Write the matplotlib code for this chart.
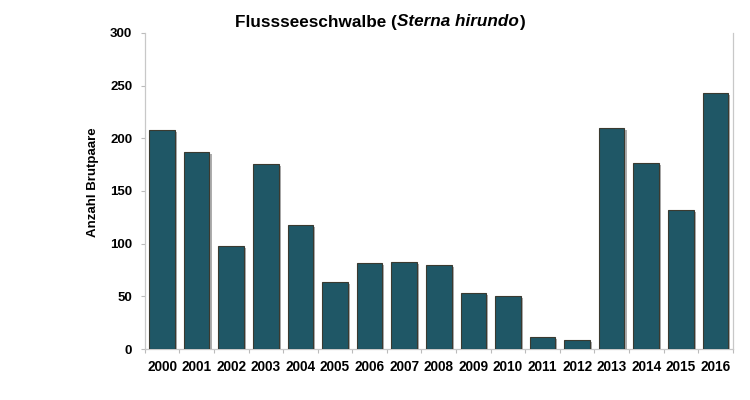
import matplotlib
matplotlib.use("Agg")
import matplotlib.pyplot as plt
import matplotlib.patheffects as pe
import numpy as np

years = ["2000", "2001", "2002", "2003", "2004", "2005", "2006", "2007", "2008",
         "2009", "2010", "2011", "2012", "2013", "2014", "2015", "2016"]
pairs = [208, 187, 98, 176, 118, 64, 82, 83, 80, 53, 50, 11, 9, 210, 177, 132, 243]
yticks = [0, 50, 100, 150, 200, 250, 300]

plt.rcParams['font.family'] = ['Liberation Sans', 'DejaVu Sans']

fig = plt.figure(figsize=(7.5, 4), dpi=100)
ax = fig.add_axes([0.193, 0.1275, 0.784, 0.79])

x = np.arange(len(years))
bars = ax.bar(x, pairs, width=0.74, color="#1F5766", edgecolor="#3a3a30", linewidth=0.8,
              zorder=3)
for b in bars:
    b.set_path_effects([pe.SimplePatchShadow(offset=(1.5, -1.5), shadow_rgbFace="#777777", alpha=0.6),
                        pe.Normal()])

ax.set_xlim(-0.5, len(years) - 0.5)
ax.set_ylim(0, 300)
ax.set_yticks(yticks)
ax.set_yticklabels([str(v) for v in yticks], fontsize=9.5, fontweight="bold")
ax.set_xticks(np.arange(-0.5, len(years), 1.0))
ax.set_xticklabels([])
ax.set_xticks(x, minor=True)
ax.set_xticklabels(years, minor=True, fontsize=9.8, fontweight="bold")
ax.tick_params(axis="x", which="minor", length=0, pad=8)
ax.tick_params(axis="x", which="major", length=3, color="#bbbbbb", direction="out")
ax.tick_params(axis="y", length=3, color="#bbbbbb", direction="out", pad=6)

for s in ["left", "right", "bottom"]:
    ax.spines[s].set_color("#c8c8c8")
    ax.spines[s].set_linewidth(0.9)
ax.spines["top"].set_visible(False)

ax.set_ylabel("Anzahl Brutpaare", fontsize=9.5, fontweight="bold")
ax.yaxis.set_label_coords(-0.077, 0.528)

# Title with italic part
parts = [("Flussseeschwalbe (", "normal"), ("Sterna hirundo", "italic"), (")", "normal")]
fig.canvas.draw()
renderer = fig.canvas.get_renderer()
texts = []
widths = []
for s, st in parts:
    t = fig.text(0, 0.945, s, fontsize=12.3, fontweight="bold", fontstyle=st,
                 ha="left", va="center")
    bb = t.get_window_extent(renderer=renderer)
    texts.append(t)
    widths.append(bb.width)
total = sum(widths)
cx = 380
start = cx - total / 2
for t, w in zip(texts, widths):
    t.set_x(start / fig.bbox.width)
    start += w

fig.savefig("out.png", dpi=100)
